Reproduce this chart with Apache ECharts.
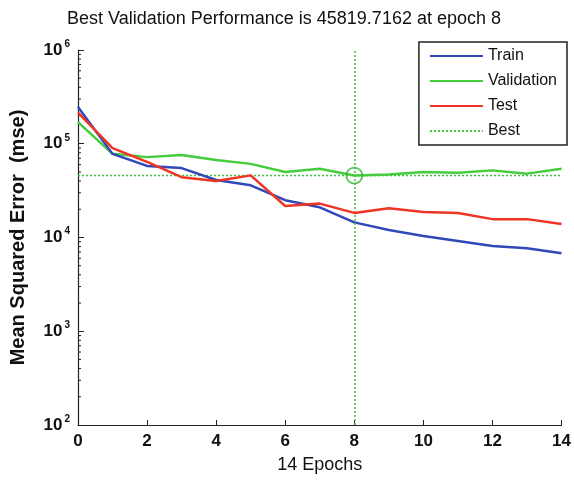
<!DOCTYPE html>
<html><head><meta charset="utf-8">
<script src="https://cdn.jsdelivr.net/npm/echarts@6/dist/echarts.min.js"></script>
<style>html,body{margin:0;padding:0;background:#fff}#c{width:574px;height:484px}</style>
</head><body><div id="c"></div>
<script>
const epochs = [0,1,2,3,4,5,6,7,8,9,10,11,12,13,14];
const train = [247000,78000,58000,55000,41000,36000,25000,21000,14500,12000,10400,9200,8100,7700,6800];
const validation = [170000,78000,72000,76000,67000,61000,50000,54000,45819.7162,47000,50000,49000,52000,48000,54000];
const test = [215000,90000,64000,44000,40000,46000,21700,23000,18300,20500,18700,18300,15700,15700,13900];
const bestEpoch = 8;
const bestValue = 45819.7162;
const minorMults = [2,3,4,5,6,7,8,9];
const decades = [100,1000,10000,100000];

const minorData = [];
decades.forEach(d => minorMults.forEach(m => minorData.push([0, d*m])));

const chart = echarts.init(document.getElementById('c'));
const font = 'Liberation Sans, Arial, sans-serif';
chart.setOption({
  animation: false,
  title: {
    text: 'Best Validation Performance is 45819.7162 at epoch 8',
    left: 279, top: 5, textAlign: 'center',
    textStyle: {fontFamily: font, fontSize: 18, fontWeight: 'normal', color: '#111'}
  },
  legend: {
    right: 7, top: 42, orient: 'vertical', left: 'auto',
    data: ['Train','Validation','Test','Best'],
    itemWidth: 53, itemHeight: 16, itemGap: 9,
    itemStyle: {color: 'rgba(0,0,0,0)', borderWidth: 0, opacity: 0},
    backgroundColor: '#fff', borderColor: '#222', borderWidth: 1.5,
    padding: [6, 10, 6, 10],
    textStyle: {fontFamily: font, fontSize: 16, color: '#111'}
  },
  grid: {left: 78, right: 12, top: 50, bottom: 59},
  xAxis: {
    type: 'value', min: 0, max: 14, interval: 2,
    name: '14 Epochs', nameLocation: 'middle', nameGap: 31,
    nameTextStyle: {fontFamily: font, fontSize: 18, color: '#111'},
    axisLine: {lineStyle: {color: '#222', width: 1.2}},
    axisTick: {inside: true, length: 5, lineStyle: {color: '#222'}},
    axisLabel: {fontFamily: font, fontSize: 17, fontWeight: 'bold', color: '#111', margin: 8},
    splitLine: {show: false}
  },
  yAxis: {
    type: 'log', logBase: 10, min: 100, max: 1000000,
    name: 'Mean Squared Error  (mse)', nameLocation: 'middle', nameGap: 50,
    nameTextStyle: {fontFamily: font, fontSize: 20, fontWeight: 'bold', color: '#111'},
    axisLine: {lineStyle: {color: '#222', width: 1.2}},
    axisTick: {inside: true, length: 6, lineStyle: {color: '#222'}},
    axisLabel: {
      margin: 8,
      formatter: v => '{b|10}{s|' + Math.round(Math.log10(v)) + '}',
      rich: {
        b: {fontFamily: font, fontSize: 17, fontWeight: 'bold', color: '#111'},
        s: {fontFamily: font, fontSize: 10, fontWeight: 'bold', color: '#111', verticalAlign: 'top', padding: [0,0,12,2]}
      }
    },
    splitLine: {show: false}
  },
  series: [
    {name: 'Train', type: 'line', data: epochs.map((e,i)=>[e,train[i]]), symbol: 'none',
     lineStyle: {color: '#3048b8', width: 2.5}, itemStyle: {color: '#3048b8'}, z: 4},
    {name: 'Validation', type: 'line', data: epochs.map((e,i)=>[e,validation[i]]), symbol: 'none',
     lineStyle: {color: '#44cc3c', width: 2.5}, itemStyle: {color: '#44cc3c'}, z: 3},
    {name: 'Test', type: 'line', data: epochs.map((e,i)=>[e,test[i]]), symbol: 'none',
     lineStyle: {color: '#f03424', width: 2.5}, itemStyle: {color: '#f03424'}, z: 5},
    {name: 'Best', type: 'line', data: [[0,bestValue],[14,bestValue]], symbol: 'none',
     lineStyle: {color: '#3cc43c', width: 1.5, type: [2,2]}, itemStyle: {color: '#3cc43c'}, z: 2,
     markLine: {silent: true, symbol: 'none', label: {show: false},
       lineStyle: {color: '#3cc43c', width: 1.5, type: [2,2]},
       data: [{xAxis: bestEpoch}]}},
    {name: 'BestPoint', type: 'scatter', data: [[bestEpoch,bestValue]], symbol: 'circle', symbolSize: 16,
     itemStyle: {color: 'rgba(0,0,0,0)', borderColor: '#2fb82f', borderWidth: 1.8}, z: 6, silent: true},
    {name: 'minorTicks', type: 'custom', data: minorData, silent: true, z: 1,
     renderItem: (params, api) => {
       const p = api.coord([api.value(0), api.value(1)]);
       return {type: 'line', shape: {x1: p[0], y1: p[1], x2: p[0]+3, y2: p[1]},
               style: {stroke: '#222', lineWidth: 1}};
     }}
  ]
});
</script></body></html>
